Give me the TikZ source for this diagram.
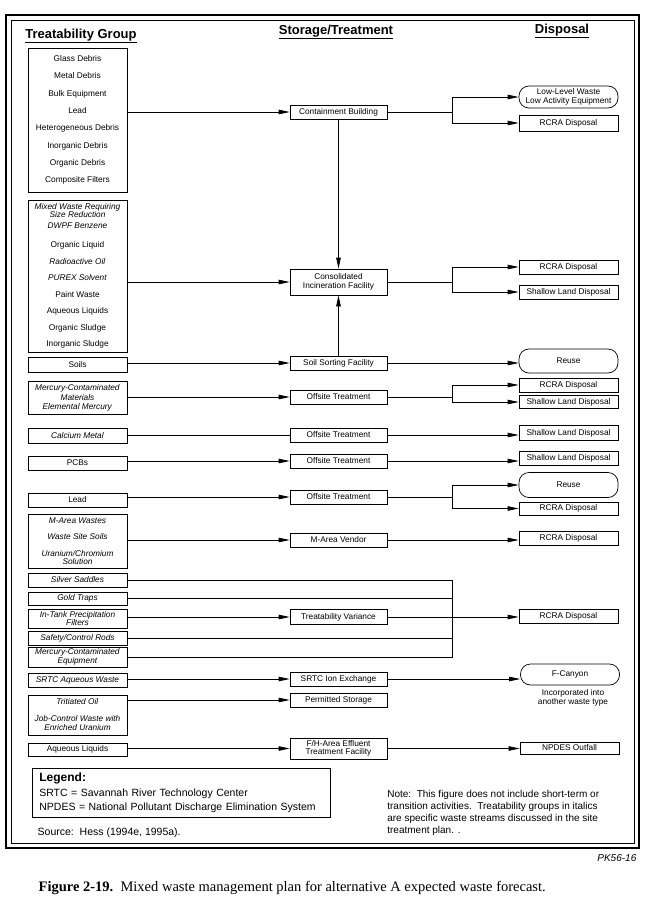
\documentclass[tikz,border=0pt]{standalone}
\usepackage{fontspec}
\setmainfont{Liberation Serif}
\setsansfont{Liberation Sans}
\usetikzlibrary{arrows.meta,positioning}

\begin{document}
\begin{tikzpicture}[x=1pt, y=-1pt, line width=0.7pt, font=\sffamily\fontsize{8.3}{9.3}\selectfont]
\tikzstyle{groupBox} = [draw, minimum width=99pt, minimum height=14pt, inner sep=0.5pt, align=center]
\tikzstyle{treatBox} = [draw, minimum width=97pt, minimum height=14pt, inner sep=0.5pt, align=center]
\tikzstyle{dispBox} = [draw, minimum width=99pt, minimum height=14pt, inner sep=0.5pt, align=center]
\tikzstyle{pillBox} = [dispBox, rounded corners=10pt]
\tikzstyle{flowArrow} = [-{Triangle[length=11pt,width=4.5pt]}]
\tikzstyle{heading} = [font=\sffamily\bfseries\fontsize{13}{15}\selectfont]

\useasboundingbox (0,0) rectangle (648,910);

% frame
\draw[line width=2pt] (6,15) rectangle (639,848);
\draw (11,20) rectangle (634,843);

\node[heading] at (81,36) (hgroup) {\underline{Treatability Group}};
\node[heading] at (336,32) (htreat) {\underline{Storage/Treatment}};
\node[heading] at (562,31) (hdisp) {\underline{Disposal}};

% treatability groups
\node[groupBox, minimum height=144pt, font=\sffamily\fontsize{8.3}{17.3}\selectfont] at (77.5,120) (debris) {Glass Debris\\Metal Debris\\Bulk Equipment\\Lead\\Heterogeneous Debris\\Inorganic Debris\\Organic Debris\\Composite Filters};
\node[groupBox, minimum height=152pt, font=\sffamily\fontsize{8.3}{16.5}\selectfont] at (77.5,276) (liquids) {\textit{Mixed Waste Requiring}\\[-8.5pt]\textit{Size Reduction}\\[-5.5pt]\textit{DWPF Benzene}\\[2.5pt]Organic Liquid\\\textit{Radioactive Oil}\\\textit{PUREX Solvent}\\Paint Waste\\Aqueous Liquids\\Organic Sludge\\Inorganic Sludge};
\node[groupBox, minimum height=15pt] at (77.5,365) (soils) {Soils};
\node[groupBox, minimum height=33pt] at (77.5,398) (mercmat) {\textit{Mercury-Contaminated}\\\textit{Materials}\\\textit{Elemental Mercury}};
\node[groupBox, minimum height=15pt] at (77.5,435.5) (calcium) {\textit{Calcium Metal}};
\node[groupBox] at (77.5,463) (pcbs) {PCBs};
\node[groupBox] at (77.5,500) (lead) {Lead};
\node[groupBox, minimum height=54pt, font=\sffamily\fontsize{8.3}{16.5}\selectfont] at (77.5,541) (marea) {\textit{M-Area Wastes}\\\textit{Waste Site Soils}\\\textit{Uranium/Chromium}\\[-8.5pt]\textit{Solution}};
\node[groupBox] at (77.5,580) (silver) {\textit{Silver Saddles}};
\node[groupBox, minimum height=13pt] at (77.5,598.5) (gold) {\textit{Gold Traps}};
\node[groupBox, minimum height=19pt, font=\sffamily\fontsize{8.3}{8.6}\selectfont] at (77.5,618.5) (intank) {\textit{In-Tank Precipitation}\\\textit{Filters}};
\node[groupBox] at (77.5,638) (safety) {\textit{Safety/Control Rods}};
\node[groupBox, minimum height=20pt, font=\sffamily\fontsize{8.3}{8.6}\selectfont] at (77.5,657) (mercequip) {\textit{Mercury-Contaminated}\\\textit{Equipment}};
\node[groupBox] at (77.5,680) (srtcwaste) {\textit{SRTC Aqueous Waste}};
\node[groupBox, minimum height=40pt, font=\sffamily\fontsize{8.3}{17}\selectfont] at (77.5,715) (tritium) {\textit{Tritiated Oil}\\\textit{Job-Control Waste with}\\[-8pt]\textit{Enriched Uranium}};
\node[groupBox, minimum height=13pt] at (77.5,749.5) (aqueous) {Aqueous Liquids};

% storage / treatment
\node[treatBox] at (338.5,112) (contain) {Containment Building};
\node[treatBox, minimum height=26pt] at (338.5,282) (incin) {Consolidated\\Incineration Facility};
\node[treatBox] at (338.5,363) (soilsort) {Soil Sorting Facility};
\node[treatBox] at (338.5,397) (off1) {Offsite Treatment};
\node[treatBox] at (338.5,435) (off2) {Offsite Treatment};
\node[treatBox] at (338.5,461) (off3) {Offsite Treatment};
\node[treatBox] at (338.5,497) (off4) {Offsite Treatment};
\node[treatBox] at (338.5,540) (vendor) {M-Area Vendor};
\node[treatBox, minimum height=15pt] at (338.5,617) (variance) {Treatability Variance};
\node[treatBox] at (338.5,679) (ionex) {SRTC Ion Exchange};
\node[treatBox] at (338.5,700) (permit) {Permitted Storage};
\node[treatBox, minimum height=21pt, font=\sffamily\fontsize{8.3}{8.6}\selectfont] at (338.5,748.5) (effluent) {F/H-Area Effluent\\Treatment Facility};

% disposal
\node[pillBox, minimum height=22pt] at (568.5,97) (llw) {Low-Level Waste\\Low Activity Equipment};
\node[dispBox, minimum height=16pt] at (568.5,123) (rcraA) {RCRA Disposal};
\node[dispBox] at (568.5,267) (rcraB) {RCRA Disposal};
\node[dispBox] at (568.5,292) (shallowA) {Shallow Land Disposal};
\node[pillBox, minimum height=24pt] at (568.5,361) (reuseA) {Reuse};
\node[dispBox] at (568.5,385) (rcraC) {RCRA Disposal};
\node[dispBox, minimum height=13pt] at (568.5,402) (shallowB) {Shallow Land Disposal};
\node[dispBox, minimum height=15pt] at (568.5,433) (shallowC) {Shallow Land Disposal};
\node[dispBox] at (568.5,458) (shallowD) {Shallow Land Disposal};
\node[pillBox, minimum height=25pt] at (568.5,485) (reuseB) {Reuse};
\node[dispBox, minimum height=13pt] at (568.5,508.5) (rcraD) {RCRA Disposal};
\node[dispBox] at (568.5,538) (rcraE) {RCRA Disposal};
\node[dispBox] at (568.5,616) (rcraF) {RCRA Disposal};
\node[pillBox, minimum height=21pt] at (570,674.5) (canyon) {F-Canyon};
\node[align=center, font=\sffamily\fontsize{8.3}{8.6}\selectfont] at (573,698) (incorp) {Incorporated into\\another waste type};
\node[dispBox, minimum height=12pt] at (569.5,748) (npdes) {NPDES Outfall};

% legend, notes
\node[draw, anchor=north west, minimum height=49pt, text width=284pt, inner xsep=7pt, inner ysep=3pt, align=left, font=\sffamily\fontsize{10.5}{14.5}\selectfont] at (32,768) (legend) {{\bfseries\fontsize{12}{14}\selectfont Legend:}\\SRTC = Savannah River Technology Center\\NPDES = National Pollutant Discharge Elimination System};
\node[anchor=west, font=\sffamily\fontsize{10.5}{12}\selectfont] at (34,833) (source) {Source:~~Hess (1994e, 1995a).};
\node[anchor=north west, align=left, inner sep=0pt, font=\sffamily\fontsize{10}{12}\selectfont] at (387,790) (note) {Note:~~This figure does not include short-term or\\transition activities.~~Treatability groups in italics\\are specific waste streams discussed in the site\\treatment plan. .};
\node[anchor=east, font=\sffamily\itshape\fontsize{10}{12}\selectfont] at (640,858) (pk) {PK56-16};
\node[anchor=west, font=\rmfamily\fontsize{14.5}{16}\selectfont] at (35,888) (caption) {\textbf{Figure 2-19.}~~Mixed waste management plan for alternative A expected waste forecast.};

\coordinate (busx) at (452,0);

% groups to storage/treatment
\draw[flowArrow] (contain -| debris.east) -- (contain.west);
\draw[flowArrow] (incin -| liquids.east) -- (incin.west);
\draw[flowArrow] (soilsort -| soils.east) -- (soilsort.west);
\draw[flowArrow] (off1 -| mercmat.east) -- (off1.west);
\draw (off2 -| calcium.east) -- (off2.west);
\draw[flowArrow] (off3 -| pcbs.east) -- (off3.west);
\draw[flowArrow] (off4 -| lead.east) -- (off4.west);
\draw[flowArrow] (vendor -| marea.east) -- (vendor.west);
\draw[flowArrow] (variance -| intank.east) -- (variance.west);
\draw[flowArrow] (ionex -| srtcwaste.east) -- (ionex.west);
\draw[flowArrow] (permit -| tritium.east) -- (permit.west);
\draw[flowArrow] (effluent -| aqueous.east) -- (effluent.west);
\draw[flowArrow] (contain) -- (incin);
\draw[flowArrow] (soilsort) -- (incin);
\draw (silver.east) -- (silver -| busx) -- (mercequip -| busx) -- (mercequip.east);
\draw (gold.east) -- (gold -| busx);
\draw (safety.east) -- (safety -| busx);

% storage/treatment to disposal
\draw[flowArrow] (contain.east) -- (contain -| busx) |- (llw.west);
\draw[flowArrow] (contain -| busx) |- (rcraA.west);
\draw[flowArrow] (incin.east) -- (incin -| busx) |- (rcraB.west);
\draw[flowArrow] (incin -| busx) |- (shallowA.west);
\draw[flowArrow] (soilsort.east) -- (soilsort -| reuseA.west);
\draw[flowArrow] (off1.east) -- (off1 -| busx) |- (rcraC.west);
\draw[flowArrow] (off1 -| busx) |- (shallowB.west);
\draw[flowArrow] (off2.east) -- (off2 -| shallowC.west);
\draw[flowArrow] (off3.east) -- (off3 -| shallowD.west);
\draw[flowArrow] (off4.east) -- (off4 -| busx) |- (reuseB.west);
\draw[flowArrow] (off4 -| busx) |- (rcraD.west);
\draw[flowArrow] (vendor.east) -- (vendor -| rcraE.west);
\draw[flowArrow] (variance.east) -- (variance -| rcraF.west);
\draw[flowArrow] (ionex.east) -- (ionex -| canyon.west);
\draw[flowArrow] (effluent.east) -- (effluent -| npdes.west);
\end{tikzpicture}
\end{document}
